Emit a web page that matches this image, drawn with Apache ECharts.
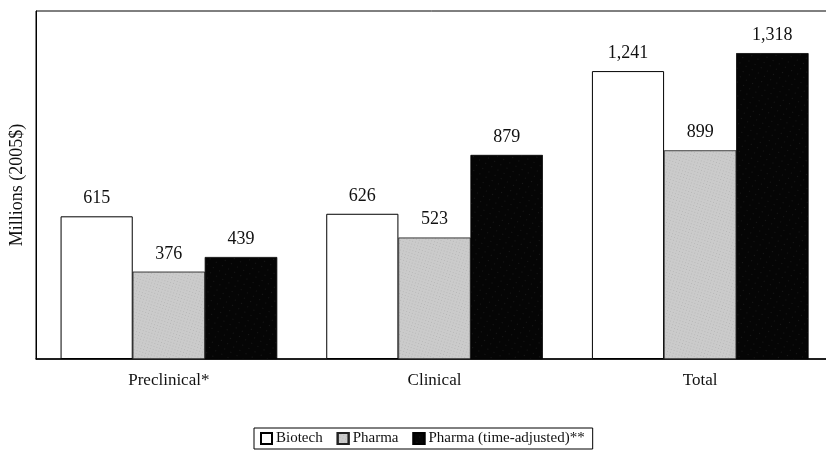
<!DOCTYPE html>
<html>
<head>
<meta charset="utf-8">
<script src="https://cdn.jsdelivr.net/npm/echarts@6/dist/echarts.min.js"></script>
<style>
  html, body { margin: 0; padding: 0; background: #fff; }
  #chart { width: 826px; height: 456px; }
</style>
</head>
<body>
<div id="chart"></div>
<script>
const categories = ["Preclinical*", "Clinical", "Total"];
const biotech = [615, 626, 1241];
const pharma = [376, 523, 899];
const pharmaAdjusted = [439, 879, 1318];
const seriesNames = ["Biotech", "Pharma", "Pharma (time-adjusted)**"];

const FONT = "'Liberation Serif', 'DejaVu Serif', serif";

const chart = echarts.init(document.getElementById("chart"), null, { renderer: "canvas" });

const labelStyle = {
  show: true,
  position: "top",
  distance: 9,
  fontFamily: FONT,
  fontSize: 18,
  color: "#111",
  formatter: (p) => p.value.toLocaleString("en-US"),
};

chart.setOption({
  animation: false,
  backgroundColor: "#fff",
  textStyle: { fontFamily: FONT },
  grid: {
    show: true,
    left: 36,
    top: 11,
    width: 797,
    height: 348,
    outerBoundsMode: "none",
    containLabel: false,
    borderColor: "#000",
    borderWidth: 1,
    backgroundColor: "transparent",
  },
  legend: {
    data: seriesNames,
    left: 254,
    top: 428,
    padding: [3, 8, 3, 6],
    itemGap: 14,
    itemWidth: 11,
    itemHeight: 11,
    borderColor: "#000",
    borderWidth: 1,
    icon: "rect",
    textStyle: { fontFamily: FONT, fontSize: 15, color: "#111", padding: [0, 0, 0, -1] },
  },
  xAxis: {
    type: "category",
    data: categories,
    axisLine: { lineStyle: { color: "#000", width: 1.5 } },
    axisTick: { show: false },
    axisLabel: { fontFamily: FONT, fontSize: 17, color: "#111", margin: 13 },
  },
  yAxis: {
    type: "value",
    min: 0,
    max: 1500,
    name: "Millions (2005$)",
    nameLocation: "middle",
    nameGap: 10,
    nameTextStyle: { fontFamily: FONT, fontSize: 18, color: "#111" },
    axisLine: { show: true, lineStyle: { color: "#000" } },
    axisTick: { show: false },
    axisLabel: { show: false },
    splitLine: { show: false },
  },
  series: [
    {
      name: seriesNames[0],
      type: "bar",
      data: biotech,
      barCategoryGap: "18.5%",
      barGap: "0%",
      itemStyle: { color: "#fff", borderColor: "#000", borderWidth: 1 },
      label: labelStyle,
    },
    {
      name: seriesNames[1],
      type: "bar",
      data: pharma,
      itemStyle: {
        color: "#cbcbcb",
        borderColor: "#222",
        borderWidth: 0.5,
        decal: {
          symbol: "rect",
          symbolSize: 0.5,
          color: "rgba(40,40,40,0.45)",
          dashArrayX: [1, 2],
          dashArrayY: [1, 2],
          rotation: 0.3,
        },
      },
      label: labelStyle,
    },
    {
      name: seriesNames[2],
      type: "bar",
      data: pharmaAdjusted,
      itemStyle: {
        color: "#050505",
        borderColor: "#000",
        borderWidth: 0.5,
        decal: {
          symbol: "rect",
          symbolSize: 0.3,
          color: "rgba(255,255,255,0.55)",
          dashArrayX: [1, 6],
          dashArrayY: [1, 5],
          rotation: 0.5,
        },
      },
      label: labelStyle,
    },
  ],
});
</script>
</body>
</html>
